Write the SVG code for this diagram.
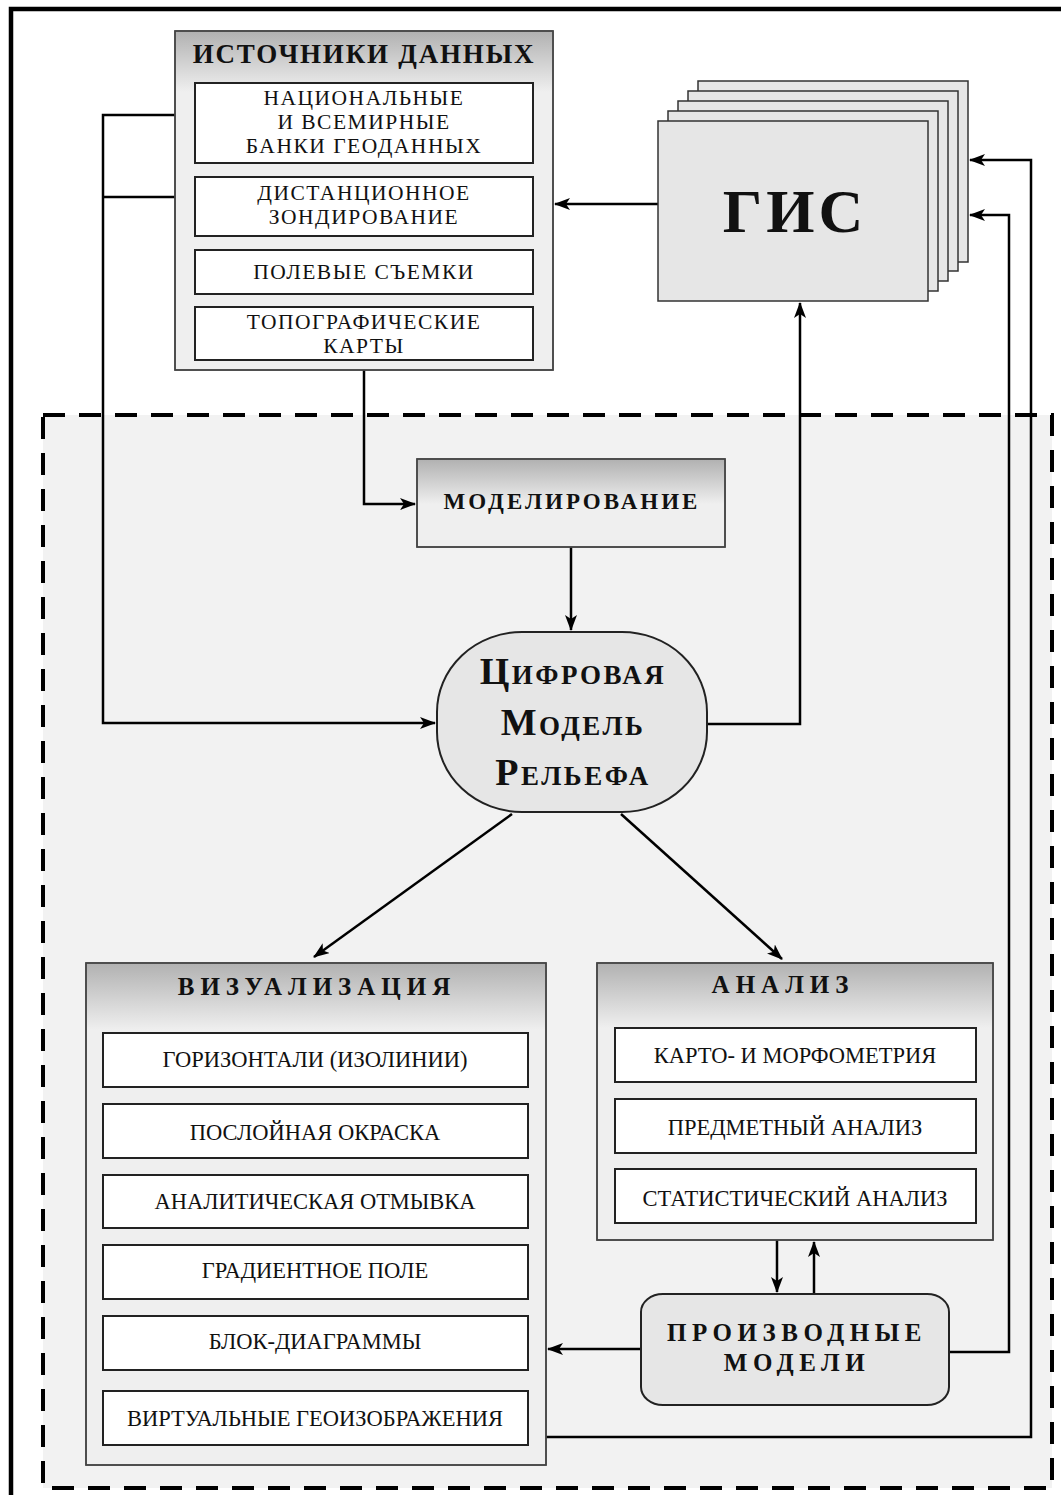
<svg xmlns="http://www.w3.org/2000/svg" width="1061" height="1495" viewBox="0 0 1061 1495">
<style>
.panel{fill:#efefef;stroke:#444;stroke-width:1.5}
.outline{fill:none;stroke:#444;stroke-width:1.5}
.item{fill:#fff;stroke:#222;stroke-width:2}
.gis{fill:#e6e6e6;stroke:#333;stroke-width:1.5}
.conn{fill:none;stroke:#000;stroke-width:2.5}
.t{font-family:"Liberation Serif","Times New Roman",serif;fill:#111;text-anchor:middle}
.small{font-size:21.5px}
.list{font-size:22.5px}
.spaced{letter-spacing:1.5px}
.title{font-weight:bold;fill:#111}
</style>
<defs>
<linearGradient id="hdr" x1="0" y1="0" x2="0" y2="1">
<stop offset="0" stop-color="#b2b2b2"/>
<stop offset="1" stop-color="#efefef"/>
</linearGradient>
<marker id="ah" markerUnits="userSpaceOnUse" markerWidth="16" markerHeight="12" refX="15" refY="6" orient="auto">
<path d="M0,0 L16,6 L0,12 L4,6 Z" fill="#000"/>
</marker>
</defs>
<rect width="1061" height="1495" fill="#fff"/>
<path d="M11,1495 V9 H1061" fill="none" stroke="#000" stroke-width="4.5"/>
<rect x="43" y="415" width="1009" height="1073" fill="#f2f2f2" stroke="#000" stroke-width="4" stroke-dasharray="22 14"/>

<g id="connectors">
<path class="conn" d="M195,115 H103 V723 H435" marker-end="url(#ah)"/>
<path class="conn" d="M195,197 H103"/>
<path class="conn" d="M364,370 V504 H415" marker-end="url(#ah)"/>
<path class="conn" d="M571,547 V630" marker-end="url(#ah)"/>
<path class="conn" d="M707,724 H800 V303" marker-end="url(#ah)"/>
<path class="conn" d="M658,204 H555" marker-end="url(#ah)"/>
<path class="conn" d="M512,814 L314,957" marker-end="url(#ah)"/>
<path class="conn" d="M621,814 L782,959" marker-end="url(#ah)"/>
<path class="conn" d="M777,1240 V1292" marker-end="url(#ah)"/>
<path class="conn" d="M814,1294 V1242" marker-end="url(#ah)"/>
<path class="conn" d="M641,1349 H548" marker-end="url(#ah)"/>
<path class="conn" d="M949,1352 H1009 V215 H970" marker-end="url(#ah)"/>
<path class="conn" d="M546,1437 H1031 V160 H970" marker-end="url(#ah)"/>
</g>

<g id="sources">
<rect class="panel" x="175" y="31" width="378" height="339"/>
<rect x="176" y="32" width="376" height="60" fill="url(#hdr)"/>
<rect class="outline" x="175" y="31" width="378" height="339"/>
<text class="t title" x="364" y="63" font-size="27" letter-spacing="1.8">ИСТОЧНИКИ ДАННЫХ</text>
<rect class="item" x="195" y="83" width="338" height="80"/>
<text class="t small spaced" x="364" y="105">НАЦИОНАЛЬНЫЕ</text>
<text class="t small spaced" x="364" y="129">И  ВСЕМИРНЫЕ</text>
<text class="t small spaced" x="364" y="153">БАНКИ  ГЕОДАННЫХ</text>
<rect class="item" x="195" y="177" width="338" height="59"/>
<text class="t small spaced" x="364" y="200">ДИСТАНЦИОННОЕ</text>
<text class="t small spaced" x="364" y="224">ЗОНДИРОВАНИЕ</text>
<rect class="item" x="195" y="250" width="338" height="44"/>
<text class="t small spaced" x="364" y="279">ПОЛЕВЫЕ  СЪЕМКИ</text>
<rect class="item" x="195" y="307" width="338" height="53"/>
<text class="t small spaced" x="364" y="329">ТОПОГРАФИЧЕСКИЕ</text>
<text class="t small spaced" x="364" y="353">КАРТЫ</text>
</g>

<g id="gis">
<rect class="gis" x="698" y="81" width="270" height="181"/>
<rect class="gis" x="688" y="91" width="270" height="180"/>
<rect class="gis" x="678" y="101" width="270" height="180"/>
<rect class="gis" x="668" y="111" width="270" height="180"/>
<rect class="gis" x="658" y="121" width="270" height="180"/>
<text class="t title" x="795" y="232" font-size="62" letter-spacing="4">ГИС</text>
</g>

<g id="modeling">
<rect class="panel" x="417" y="459" width="308" height="88"/>
<rect x="418" y="460" width="306" height="44" fill="url(#hdr)"/>
<rect class="outline" x="417" y="459" width="308" height="88"/>
<text class="t title" x="572" y="509" font-size="23" letter-spacing="3">МОДЕЛИРОВАНИЕ</text>
</g>

<g id="dem">
<rect x="437" y="632" width="270" height="180" rx="85" ry="80" fill="#e6e6e6" stroke="#222" stroke-width="2"/>
<text class="t title" x="573" y="684" font-size="38" letter-spacing="2.5" style="font-variant:small-caps">Цифровая</text>
<text class="t title" x="573" y="735" font-size="38" letter-spacing="2.5" style="font-variant:small-caps">Модель</text>
<text class="t title" x="573" y="785" font-size="38" letter-spacing="2.5" style="font-variant:small-caps">Рельефа</text>
</g>

<g id="visualization">
<rect class="panel" x="86" y="963" width="460" height="502"/>
<rect x="87" y="964" width="458" height="66" fill="url(#hdr)"/>
<rect class="outline" x="86" y="963" width="460" height="502"/>
<text class="t title" x="317" y="995" font-size="25" letter-spacing="6">ВИЗУАЛИЗАЦИЯ</text>
<rect class="item" x="103" y="1033" width="425" height="54"/>
<text class="t list" x="315" y="1067">ГОРИЗОНТАЛИ (ИЗОЛИНИИ)</text>
<rect class="item" x="103" y="1104" width="425" height="54"/>
<text class="t list" x="315" y="1140">ПОСЛОЙНАЯ ОКРАСКА</text>
<rect class="item" x="103" y="1175" width="425" height="53"/>
<text class="t list" x="315" y="1209">АНАЛИТИЧЕСКАЯ ОТМЫВКА</text>
<rect class="item" x="103" y="1245" width="425" height="54"/>
<text class="t list" x="315" y="1278">ГРАДИЕНТНОЕ ПОЛЕ</text>
<rect class="item" x="103" y="1316" width="425" height="54"/>
<text class="t list" x="315" y="1349">БЛОК-ДИАГРАММЫ</text>
<rect class="item" x="103" y="1391" width="425" height="54"/>
<text class="t list" x="315" y="1426">ВИРТУАЛЬНЫЕ ГЕОИЗОБРАЖЕНИЯ</text>
</g>

<g id="analysis">
<rect class="panel" x="597" y="963" width="396" height="277"/>
<rect x="598" y="964" width="394" height="64" fill="url(#hdr)"/>
<rect class="outline" x="597" y="963" width="396" height="277"/>
<text class="t title" x="783" y="993" font-size="25" letter-spacing="6">АНАЛИЗ</text>
<rect class="item" x="615" y="1028" width="361" height="54"/>
<text class="t list" x="795" y="1063">КАРТО- И МОРФОМЕТРИЯ</text>
<rect class="item" x="615" y="1099" width="361" height="54"/>
<text class="t list" x="795" y="1135">ПРЕДМЕТНЫЙ АНАЛИЗ</text>
<rect class="item" x="615" y="1169" width="361" height="54"/>
<text class="t list" x="795" y="1206">СТАТИСТИЧЕСКИЙ АНАЛИЗ</text>
</g>

<g id="derived">
<rect x="641" y="1294" width="308" height="111" rx="22" ry="18" fill="#e6e6e6" stroke="#222" stroke-width="2"/>
<text class="t title" x="797" y="1341" font-size="25" letter-spacing="5.5">ПРОИЗВОДНЫЕ</text>
<text class="t title" x="797" y="1371" font-size="25" letter-spacing="5.5">МОДЕЛИ</text>
</g>
</svg>
